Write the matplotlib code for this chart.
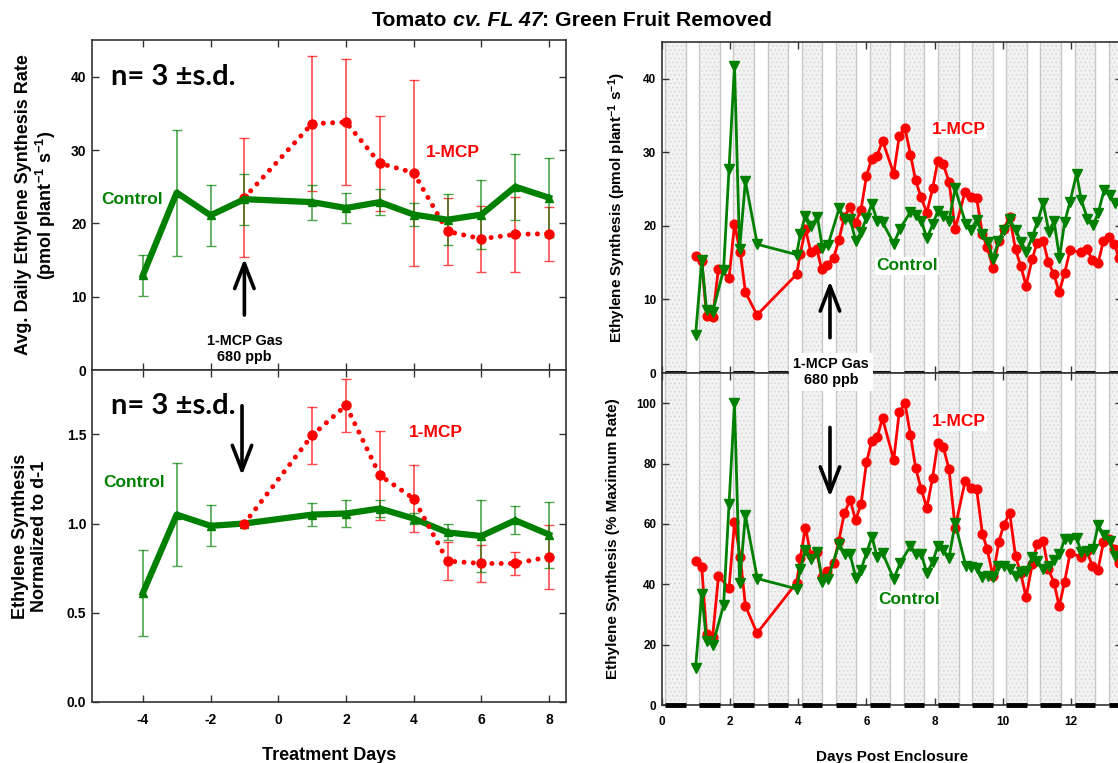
import matplotlib
matplotlib.use('Agg')
import matplotlib.pyplot as plt
import numpy as np

plt.rcParams['font.family'] = ['Liberation Sans', 'DejaVu Sans']
plt.rcParams['font.weight'] = 'bold'
plt.rcParams['axes.unicode_minus'] = False
plt.rcParams['mathtext.fontset'] = 'custom'
plt.rcParams['mathtext.rm'] = 'Liberation Sans:bold'
plt.rcParams['mathtext.it'] = 'Liberation Sans:italic:bold'
plt.rcParams['mathtext.bf'] = 'Liberation Sans:bold'
plt.rcParams['mathtext.default'] = 'rm'
plt.rcParams['hatch.linewidth'] = 0.6

# ---- daily averages (left panels) ----
days_ctrl = [-4, -3, -2, -1, 1, 2, 3, 4, 5, 6, 7, 8]
rate_ctrl = [12.9, 24.2, 21.1, 23.3, 22.9, 22.1, 22.9, 21.2, 20.5, 21.2, 25.0, 23.5]
rate_ctrl_sd = [2.75, 8.6, 4.2, 3.5, 2.4, 2.1, 1.8, 1.6, 3.5, 4.7, 4.5, 5.4]
days_mcp = [-1, 1, 2, 3, 4, 5, 6, 7, 8]
rate_mcp = [23.5, 33.6, 33.8, 28.2, 26.9, 18.9, 17.9, 18.5, 18.6]
rate_mcp_sd = [8.1, 9.2, 8.6, 6.5, 12.7, 4.6, 4.5, 5.1, 3.7]

norm_ctrl = [0.61, 1.05, 0.987, 1.0, 1.05, 1.056, 1.084, 1.028, 0.95, 0.93, 1.018, 0.938]
norm_ctrl_sd = [0.24, 0.29, 0.115, 0.0, 0.065, 0.075, 0.045, 0.03, 0.045, 0.2, 0.078, 0.185]
norm_mcp = [1.0, 1.494, 1.662, 1.27, 1.14, 0.79, 0.776, 0.776, 0.813]
norm_mcp_sd = [0.0, 0.16, 0.15, 0.25, 0.19, 0.107, 0.106, 0.065, 0.18]

# ---- time course (right panels) ----
t_mcp = [1.00, 1.17, 1.31, 1.49, 1.66, 1.97, 2.13, 2.30, 2.45, 2.79,
         3.95, 4.06, 4.21, 4.37, 4.54, 4.69, 4.85, 5.04, 5.19, 5.35,
         5.52, 5.68, 5.84, 6.00, 6.15, 6.31, 6.47, 6.80, 6.96, 7.13,
         7.29, 7.44, 7.60, 7.77, 7.94, 8.09, 8.25, 8.42, 8.60, 8.89,
         9.06, 9.23, 9.40, 9.54, 9.71, 9.88, 10.02, 10.20, 10.37, 10.52,
         10.68, 10.86, 11.00, 11.18, 11.33, 11.50, 11.65, 11.81, 11.97, 12.30,
         12.46, 12.62, 12.79, 12.95, 13.11, 13.27, 13.40]
eth_mcp = [15.9, 15.25, 7.8, 7.6, 14.2, 12.9, 20.2, 16.4, 11.0, 7.9,
           13.4, 16.2, 19.6, 16.4, 16.9, 14.1, 14.7, 15.7, 18.1, 21.2,
           22.6, 20.4, 22.2, 26.8, 29.1, 29.5, 31.6, 27.1, 32.2, 33.3,
           29.7, 26.2, 23.9, 21.8, 25.1, 28.8, 28.4, 26.0, 19.6, 24.6,
           23.9, 23.8, 18.9, 17.1, 14.3, 18.0, 19.6, 21.2, 16.8, 14.6,
           11.9, 15.5, 17.7, 18.0, 15.1, 13.4, 11.0, 13.6, 16.7, 16.4,
           16.9, 15.4, 14.9, 18.0, 18.5, 17.6, 15.6]
pct_mcp = [47.7, 45.8, 23.5, 22.7, 42.7, 38.8, 60.6, 49.1, 32.9, 23.8,
           40.5, 48.8, 58.8, 49.6, 50.7, 42.5, 44.3, 47.1, 54.5, 63.5,
           68.0, 61.3, 66.5, 80.4, 87.4, 88.7, 95.0, 81.3, 97.0, 100.0,
           89.5, 78.7, 71.7, 65.4, 75.4, 86.8, 85.6, 78.2, 58.8, 74.1,
           71.8, 71.5, 56.8, 51.6, 42.7, 54.0, 59.5, 63.7, 49.3, 43.8,
           35.7, 46.6, 53.2, 54.3, 45.1, 40.5, 32.7, 40.8, 50.4, 49.0,
           51.0, 46.2, 44.9, 54.0, 54.9, 51.6, 47.1]

t_ctrl = [0.99, 1.17, 1.31, 1.49, 1.81, 1.97, 2.13, 2.28, 2.45, 2.80,
          3.95, 4.06, 4.21, 4.38, 4.56, 4.71, 4.87, 5.20, 5.36, 5.52,
          5.69, 5.84, 6.00, 6.16, 6.31, 6.47, 6.80, 6.98, 7.29, 7.44,
          7.61, 7.77, 7.94, 8.09, 8.25, 8.42, 8.60, 8.91, 9.06, 9.23,
          9.40, 9.56, 9.71, 9.87, 10.04, 10.20, 10.37, 10.54, 10.69, 10.86,
          11.01, 11.18, 11.35, 11.50, 11.66, 11.81, 11.97, 12.16, 12.30, 12.48,
          12.64, 12.79, 12.97, 13.13, 13.30]
eth_ctrl = [5.2, 15.3, 8.6, 8.3, 14.0, 27.8, 41.8, 16.8, 26.1, 17.5,
            16.1, 18.9, 21.4, 20.0, 21.2, 17.0, 17.4, 22.4, 20.9, 20.9,
            17.9, 19.2, 21.1, 23.0, 20.7, 20.5, 17.6, 19.6, 21.9, 21.5,
            20.7, 18.3, 20.2, 22.0, 21.3, 20.7, 25.1, 20.3, 19.4, 20.8,
            18.9, 17.8, 15.5, 18.0, 19.5, 20.9, 19.5, 17.8, 16.5, 18.5,
            20.5, 23.1, 19.2, 20.7, 15.7, 20.5, 23.3, 27.1, 23.5, 21.0,
            20.1, 21.7, 24.9, 24.2, 23.1]
pct_ctrl = [12.4, 36.9, 21.1, 20.0, 33.0, 66.5, 100.0, 40.5, 62.9, 41.9,
            38.5, 45.0, 51.5, 48.5, 50.7, 40.8, 41.8, 53.5, 50.0, 49.9,
            42.1, 44.9, 50.4, 55.8, 49.1, 50.4, 41.8, 46.9, 52.7, 50.2,
            49.9, 43.8, 47.3, 52.7, 51.3, 48.8, 60.2, 46.2, 45.8, 45.5,
            42.5, 42.9, 42.5, 46.0, 46.0, 45.2, 42.7, 44.0, 44.3, 49.1,
            47.7, 45.2, 46.0, 47.9, 49.9, 54.9, 54.9, 55.4, 50.7, 51.0,
            51.6, 59.5, 56.2, 54.3, 49.3]

# dark periods (start, end) in days post enclosure
dark_start = [d + 0.1 for d in range(14)]
dark_end = [d + 0.7 for d in range(14)]

GREEN = '#008000'
RED = '#ff0000'
SPINE = '#333333'

fig = plt.figure(figsize=(11.18, 7.63), dpi=100)
ax1 = fig.add_axes([0.0823, 0.515, 0.424, 0.4325])
ax2 = fig.add_axes([0.0823, 0.080, 0.424, 0.435])
ax3 = fig.add_axes([0.592, 0.5111, 0.4118, 0.4338])
ax4 = fig.add_axes([0.592, 0.076, 0.4118, 0.435])


def style(ax, size):
    ax.tick_params(direction='in', top=True, right=True, length=5, width=1,
                   labelsize=size, color=SPINE)
    ax.tick_params(axis='x', pad=8)
    ax.tick_params(axis='y', pad=4)
    for s in ax.spines.values():
        s.set_color(SPINE)
        s.set_linewidth(1.2)


def dotted(ax, x, y):
    ax.plot(x, y, color=RED, lw=3.6, linestyle=(0, (0.01, 1.85)),
            dash_capstyle='round', zorder=3)
    ax.plot(x, y, 'o', color=RED, ms=6.5, zorder=4)


def up_arrow(ax, x, y0, y1):
    ax.annotate('', xy=(x, y1), xytext=(x, y0),
                arrowprops=dict(arrowstyle='->,head_length=0.9,head_width=0.35',
                                lw=2.6, color='black', mutation_scale=20,
                                shrinkA=0, shrinkB=0))


# ---- left top: avg daily rate ----
ax = ax1
ax.errorbar(days_mcp, rate_mcp, yerr=rate_mcp_sd, fmt='none', ecolor=RED,
            elinewidth=1.2, capsize=3.5, alpha=0.7, zorder=2)
ax.errorbar(days_ctrl, rate_ctrl, yerr=rate_ctrl_sd, fmt='none', ecolor=GREEN,
            elinewidth=1.2, capsize=3.5, alpha=0.7, zorder=2)
dotted(ax, days_mcp, rate_mcp)
ax.plot(days_ctrl, rate_ctrl, '-^', color=GREEN, lw=4.5, ms=6, zorder=5)
ax.set_xticks(range(-4, 9, 2))
ax.set_yticks([0, 10, 20, 30, 40])
ax.set_xlim(-5.5, 8.5)
ax.set_ylim(0, 45)
ax.tick_params(labelbottom=False)
style(ax, 10)
ax.set_ylabel('Avg. Daily Ethylene Synthesis Rate\n(pmol plant$^{-1}$ s$^{-1}$)',
              fontsize=13, fontweight='bold', linespacing=1.15)
ax.yaxis.set_label_coords(-0.071, 0.5)
ax.text(-4.95, 40, 'n= 3 \u00b1s.d.', fontsize=21, fontweight='bold',
        family='Lato', va='center', ha='left')
ax.text(-5.22, 23.2, 'Control', color=GREEN, fontsize=12.5, fontweight='bold',
        va='center', ha='left')
ax.text(4.35, 29.6, '1-MCP', color=RED, fontsize=12.5, fontweight='bold',
        va='center', ha='left')
up_arrow(ax, -1, 7.5, 15.2)
ax.text(-1, 2.9, '1-MCP Gas\n680 ppb', fontsize=10.4, fontweight='bold',
        ha='center', va='center', linespacing=1.2)

# ---- left bottom: normalized ----
ax = ax2
ax.errorbar(days_mcp, norm_mcp, yerr=norm_mcp_sd, fmt='none', ecolor=RED,
            elinewidth=1.2, capsize=3.5, alpha=0.7, zorder=2)
ax.errorbar(days_ctrl, norm_ctrl, yerr=norm_ctrl_sd, fmt='none', ecolor=GREEN,
            elinewidth=1.2, capsize=3.5, alpha=0.7, zorder=2)
ax.plot(days_ctrl, norm_ctrl, '-^', color=GREEN, lw=4.5, ms=6, zorder=3)
dotted(ax, days_mcp, norm_mcp)
ax.set_xticks(range(-4, 9, 2))
ax.set_yticks([0, 0.5, 1.0, 1.5])
ax.set_yticklabels(['0.0', '0.5', '1.0', '1.5'])
ax.set_xlim(-5.5, 8.5)
ax.set_ylim(0, 1.86)
style(ax, 10)
ax.set_xlabel('Treatment Days', fontsize=13, fontweight='bold', labelpad=14)
ax.set_ylabel('Ethylene Synthesis\nNormalized to d-1', fontsize=13,
              fontweight='bold', linespacing=1.15)
ax.yaxis.set_label_coords(-0.093, 0.5)
ax.text(-4.95, 1.66, 'n= 3 \u00b1s.d.', fontsize=21, fontweight='bold',
        family='Lato', va='center', ha='left')
ax.text(-5.18, 1.23, 'Control', color=GREEN, fontsize=12.5, fontweight='bold',
        va='center', ha='left')
ax.text(3.85, 1.51, '1-MCP', color=RED, fontsize=12.5, fontweight='bold',
        va='center', ha='left')
up_arrow(ax, -1.07, 1.66, 1.27)


# ---- right panels: time course with dark periods ----
def dark_bands(ax):
    for a, b in zip(dark_start, dark_end):
        ax.axvspan(a, b, facecolor='#f2f2f2', edgecolor='#d6d6d6', hatch='....',
                   lw=0, zorder=0)
        ax.axvline(a, color='#c8c8c8', lw=1, zorder=0.5)
        ax.axvline(b, color='#c8c8c8', lw=1, zorder=0.5)
    ax.hlines(np.zeros(len(dark_start)), dark_start, dark_end, color='black',
              lw=3.5, zorder=6, clip_on=False)


for ax, y_mcp, y_ctrl in [(ax3, eth_mcp, eth_ctrl), (ax4, pct_mcp, pct_ctrl)]:
    dark_bands(ax)
    ax.plot(t_mcp, y_mcp, '-o', color=RED, lw=2, ms=6.3, zorder=3)
    ax.plot(t_ctrl, y_ctrl, '-v', color=GREEN, lw=2, ms=7, zorder=4)
    ax.set_xticks(range(0, 15, 2))
    ax.set_xlim(0, 13.5)
    style(ax, 8.5)

ax = ax3
ax.set_yticks([0, 10, 20, 30, 40])
ax.set_ylim(0, 45)
ax.tick_params(labelbottom=False)
ax.set_ylabel('Ethylene Synthesis (pmol plant$^{-1}$ s$^{-1}$)', fontsize=11,
              fontweight='bold')
ax.yaxis.set_label_coords(-0.074, 0.5)
ax.text(7.92, 33.1, '1-MCP', color=RED, fontsize=12.5, fontweight='bold',
        va='center', ha='left', zorder=7,
        bbox=dict(facecolor='white', edgecolor='none', pad=1))
ax.text(6.28, 14.6, 'Control', color=GREEN, fontsize=12.5, fontweight='bold',
        va='center', ha='left', zorder=7,
        bbox=dict(facecolor='white', edgecolor='none', pad=1))
up_arrow(ax, 4.93, 4.8, 12.5)

ax = ax4
ax.set_yticks([0, 20, 40, 60, 80, 100])
ax.set_ylim(0, 110)
ax.set_xlabel('Days Post Enclosure', fontsize=11, fontweight='bold', labelpad=16)
ax.set_ylabel('Ethylene Synthesis (% Maximum Rate)', fontsize=11,
              fontweight='bold')
ax.yaxis.set_label_coords(-0.090, 0.5)
ax.text(7.92, 93.8, '1-MCP', color=RED, fontsize=12.5, fontweight='bold',
        va='center', ha='left', zorder=7,
        bbox=dict(facecolor='white', edgecolor='none', pad=1))
ax.text(6.34, 34.9, 'Control', color=GREEN, fontsize=12.5, fontweight='bold',
        va='center', ha='left', zorder=7,
        bbox=dict(facecolor='white', edgecolor='none', pad=1))
up_arrow(ax, 4.93, 92, 69)

# gas label straddling the two right panels
fig.text(831 / 1118, 1 - 372 / 763, '1-MCP Gas\n680 ppb', fontsize=10.4,
         fontweight='bold', ha='center', va='center', linespacing=1.2,
         zorder=10, bbox=dict(facecolor='white', edgecolor='none', pad=3))

# title with italic cultivar name, pieces laid out side by side
renderer = fig.canvas.get_renderer()
pieces = [('Tomato', 'normal'), ('cv. FL 47', 'italic'),
          (': Green Fruit Removed', 'normal')]
title_size = 15.3
gap = title_size * 0.278 * 100 / 72
title_y = 1 - 26 / 763
texts = [fig.text(0, title_y, s, fontsize=title_size, fontweight='bold',
                  style=st, va='baseline', ha='left') for s, st in pieces]
widths = [t.get_window_extent(renderer).width for t in texts]
total = sum(widths) + gap
x = 572 - total / 2
for i, t in enumerate(texts):
    t.set_x(x / 1118)
    x += widths[i] + (gap if i == 0 else 0)

fig.savefig('out.png', dpi=100)
